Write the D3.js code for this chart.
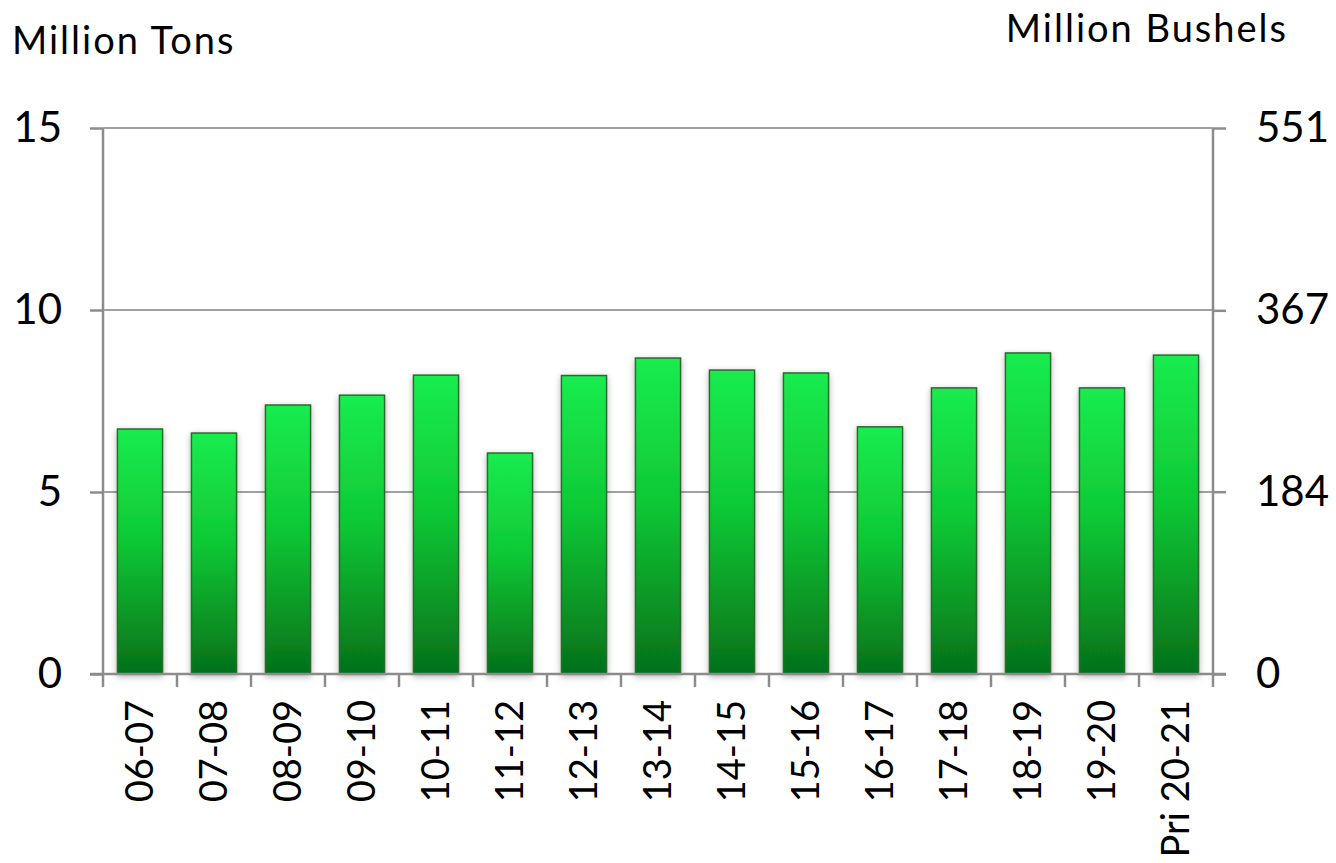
<!DOCTYPE html>
<html>
<head>
<meta charset="utf-8">
<script src="https://cdn.jsdelivr.net/npm/d3@7"></script>
<style>
  html, body { margin: 0; padding: 0; background: #fff; }
  svg { display: block; font-family: "Lato", "DejaVu Sans", sans-serif; }
</style>
</head>
<body>
<svg id="chart" width="1336" height="863"></svg>
<script>
// Data
const seasons = ["06-07", "07-08", "08-09", "09-10", "10-11", "11-12", "12-13", "13-14",
                 "14-15", "15-16", "16-17", "17-18", "18-19", "19-20", "Pri 20-21"];
const tons = [6.73, 6.62, 7.39, 7.66, 8.21, 6.07, 8.20, 8.68, 8.35, 8.27, 6.79, 7.86, 8.82, 7.86, 8.76];
const leftTicks = [0, 5, 10, 15];
const rightTicks = [0, 184, 367, 551];

const svg = d3.select("#chart");
const margin = { left: 103, right: 123, top: 128, bottom: 189 };
const width = 1336, height = 863;

const x = d3.scaleBand()
    .domain(seasons)
    .range([margin.left, width - margin.right])
    .paddingInner(0.39)
    .paddingOuter(0.195);

const y = d3.scaleLinear().domain([0, 15]).range([height - margin.bottom, margin.top]);
const y2 = d3.scaleLinear().domain([0, 551]).range([height - margin.bottom, margin.top]);

const defs = svg.append("defs");
const grad = defs.append("linearGradient")
    .attr("id", "barGrad")
    .attr("x1", 0).attr("y1", 0).attr("x2", 0).attr("y2", 1);
grad.append("stop").attr("offset", "0%").attr("stop-color", "#1aec4f");
grad.append("stop").attr("offset", "45%").attr("stop-color", "#0fc935");
grad.append("stop").attr("offset", "100%").attr("stop-color", "#05701a");

const shadow = defs.append("filter").attr("id", "shadow")
    .attr("x", "-30%").attr("y", "-10%").attr("width", "160%").attr("height", "130%");
shadow.append("feDropShadow")
    .attr("dx", 0).attr("dy", 2).attr("stdDeviation", 3)
    .attr("flood-color", "#000").attr("flood-opacity", 0.3);

// gridlines
svg.append("g")
    .selectAll("line")
    .data(leftTicks.filter(d => d > 0))
    .join("line")
    .attr("x1", margin.left).attr("x2", width - margin.right)
    .attr("y1", d => y(d)).attr("y2", d => y(d))
    .attr("stroke", "#a0a0a0").attr("stroke-width", 2);

// bars
svg.append("g")
    .selectAll("rect")
    .data(seasons)
    .join("rect")
    .attr("x", d => x(d))
    .attr("width", x.bandwidth())
    .attr("y", (d, i) => y(tons[i]))
    .attr("height", (d, i) => y(0) - y(tons[i]))
    .attr("fill", "url(#barGrad)")
    .attr("stroke", "#2a6a2f")
    .attr("stroke-width", 1.5)
    .attr("filter", "url(#shadow)");

// left axis
const leftAxis = svg.append("g")
    .attr("transform", `translate(${margin.left},0)`)
    .call(d3.axisLeft(y).tickValues(leftTicks).tickSize(13).tickPadding(28));
leftAxis.select(".domain").remove();
leftAxis.append("line").attr("y1", y(0)).attr("y2", y(15)).attr("stroke", "#8c8c8c").attr("stroke-width", 2.5);

// right axis
const rightAxis = svg.append("g")
    .attr("transform", `translate(${width - margin.right},0)`)
    .call(d3.axisRight(y2).tickValues(rightTicks).tickSize(13).tickPadding(30));
rightAxis.select(".domain").remove();
rightAxis.append("line").attr("y1", y(0)).attr("y2", y(15)).attr("stroke", "#8c8c8c").attr("stroke-width", 2.5);

[leftAxis, rightAxis].forEach(g => {
    g.selectAll(".tick line").attr("stroke", "#8c8c8c").attr("stroke-width", 2.5);
    g.selectAll(".tick text").attr("font-size", 42).attr("fill", "#000")
        .attr("font-family", "Lato, 'DejaVu Sans', sans-serif");
});

// bottom axis with ticks at category boundaries
const bottom = svg.append("g")
    .attr("transform", `translate(0,${y(0)})`);
bottom.append("line")
    .attr("x1", margin.left - 13).attr("x2", width - margin.right + 13)
    .attr("stroke", "#8c8c8c").attr("stroke-width", 2.5);

const boundaries = seasons.map(d => x(d) - x.step() * x.paddingInner() / 2)
    .concat([width - margin.right]);
bottom.selectAll("line.tk")
    .data(boundaries)
    .join("line")
    .attr("class", "tk")
    .attr("x1", d => d).attr("x2", d => d)
    .attr("y1", 0).attr("y2", 13)
    .attr("stroke", "#8c8c8c").attr("stroke-width", 2.5);

bottom.selectAll("text")
    .data(seasons)
    .join("text")
    .attr("transform", d => `translate(${x(d) + x.bandwidth() / 2},26) rotate(-90)`)
    .attr("text-anchor", "end")
    .attr("dy", "0.35em")
    .attr("font-size", 38)
    .attr("fill", "#000")
    .text(d => d);

// axis titles
svg.append("text")
    .attr("x", 12).attr("y", 54)
    .attr("font-size", 38)
    .attr("letter-spacing", 2)
    .text("Million Tons");
svg.append("text")
    .attr("x", 1288).attr("y", 42)
    .attr("text-anchor", "end")
    .attr("font-size", 38)
    .attr("letter-spacing", 2)
    .text("Million Bushels");
</script>
</body>
</html>
